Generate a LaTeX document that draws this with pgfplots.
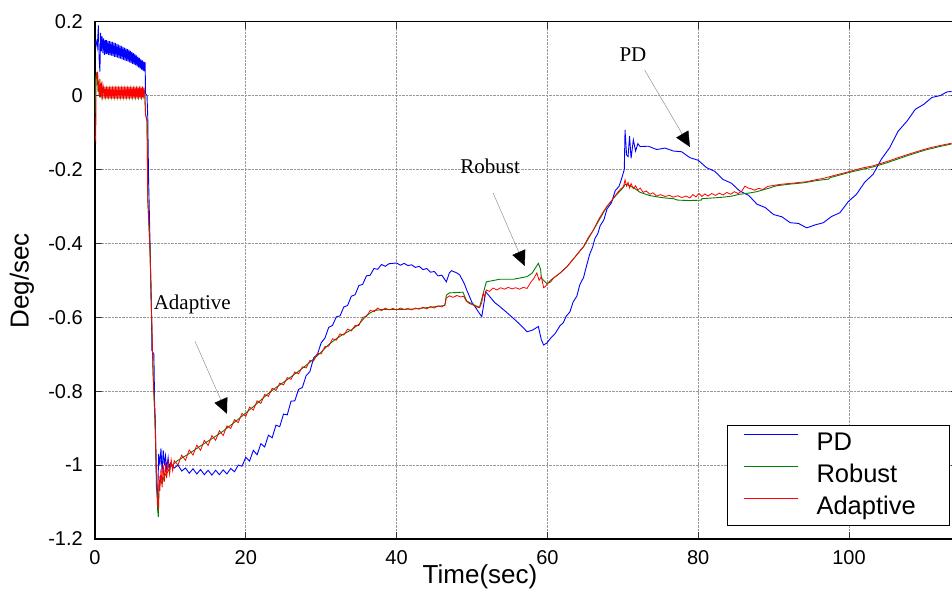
\documentclass[border=0pt]{standalone}
\usepackage{fontspec}
\setmainfont{Liberation Sans}
\newfontfamily\annfont{Liberation Serif}
\usepackage{pgfplots}
\pgfplotsset{compat=1.18}
\usetikzlibrary{arrows.meta}
\definecolor{pdblue}{RGB}{0,0,255}
\definecolor{rbgreen}{RGB}{0,128,0}
\definecolor{adred}{RGB}{255,0,0}
\begin{document}
\begin{tikzpicture}
\begin{axis}[
  scale only axis, width=863.3pt, height=517.3pt,
  xmin=0, xmax=114.5, ymin=-1.2, ymax=0.2,
  xtick={0,20,40,60,80,100}, xticklabels={0,20,40,60,80,100},
  ytick={-1.2,-1,-0.8,-0.6,-0.4,-0.2,0,0.2},
  yticklabels={-1.2,-1,-0.8,-0.6,-0.4,-0.2,0,0.2},
  tick label style={font=\fontsize{20}{24}\selectfont, inner sep=0pt},
  xticklabel shift=11pt, yticklabel shift=12pt,
  tick align=inside, major tick length=7pt,
  tick style={black!80, line width=0.6pt},
  axis line style={black, line width=1.2pt},
  grid=major, grid style={densely dotted, gray!80, line width=0.7pt},
  xlabel={Time(sec)}, ylabel={Deg/sec},
  label style={font=\fontsize{26}{30}\selectfont},
  xlabel style={at={(0.446,-0.0735)}, anchor=center},
  ylabel style={at={(-0.0846,0.4988)}, anchor=center},
  legend style={at={(0.7321,0.0251)}, anchor=south west, draw=black, line width=1.2pt,
    fill=white, font=\fontsize{25.5}{30}\selectfont, inner xsep=16pt, inner ysep=5pt,
    row sep=6pt, nodes={inner xsep=0pt, inner ysep=0pt, text height=20pt, text depth=6pt},
    /tikz/every odd column/.append style={column sep=18pt},
    /tikz/every even column/.append style={text width=117pt}},
  legend image code/.code={\draw[#1] (0pt,9pt) -- (54pt,9pt);},
  legend cell align=left,
]
\addplot[pdblue, line width=0.9pt] coordinates {
(0,0.14)(0.15,0.148)(0.3,0.13)(0.45,0.19)(0.55,0.1)(0.65,0.065)(0.75,0.17)(0.85,0.12)(0.95,0.16)(1.05,0.115)(1.15,0.155)(1.25,0.11)(1.35,0.15)(1.45,0.112)
(1.5,0.15)(1.6,0.112)(1.7,0.148)(1.8,0.11)(1.9,0.147)(2.0,0.109)(2.1,0.146)(2.2,0.108)(2.3,0.145)(2.4,0.107)(2.5,0.143)(2.6,0.105)(2.7,0.142)(2.8,0.104)(2.9,0.14)(3.0,0.103)(3.1,0.138)(3.2,0.101)(3.3,0.136)(3.4,0.1)(3.5,0.134)(3.6,0.098)(3.7,0.132)(3.8,0.097)(3.9,0.13)(4.0,0.095)(4.1,0.128)(4.2,0.094)(4.3,0.126)(4.4,0.092)(4.5,0.124)(4.6,0.09)(4.7,0.121)(4.8,0.088)(4.9,0.118)(5.0,0.086)(5.1,0.115)(5.2,0.084)(5.3,0.112)(5.4,0.082)(5.5,0.109)(5.6,0.079)(5.7,0.105)(5.8,0.076)(5.9,0.102)(6.0,0.073)(6.1,0.098)(6.2,0.07)(6.3,0.095)(6.4,0.067)(6.5,0.092)(6.6,0.065)
(6.65,0.09)(6.7,0.006)(6.9,0.0)(7.0,-0.06)(7.1,-0.22)(7.3,-0.40)(7.5,-0.60)(7.55,-0.69)(7.8,-0.70)(7.85,-0.75)(7.9,-0.83)(8.0,-0.88)(8.05,-0.94)(8.15,-1.06)(8.3,-1.09)(8.45,-0.97)(8.6,-1.0)(8.75,-0.955)(8.9,-1.02)(9.05,-0.96)(9.2,-1.0)(9.35,-0.975)(9.5,-1.01)(9.7,-0.98)(9.85,-1.01)
(10.0,-0.995)(10.5,-1.008)(11,-1.0)(11.5,-1.016)(12,-1.008)(12.5,-1.022)(13,-1.01)(13.5,-1.024)(14,-1.012)(14.5,-1.026)(15,-1.014)(15.5,-1.027)(16,-1.014)(16.5,-1.026)(17,-1.013)(17.5,-1.024)(18,-1.009)(18.5,-1.018)(19,-1.0)(19.5,-1.003)
(20,-0.979)(20.5,-0.989)(21,-0.96)(21.5,-0.972)(22,-0.942)(22.5,-0.951)(23,-0.919)(23.5,-0.926)(24,-0.892)(24.5,-0.896)(25,-0.862)(25.5,-0.864)(26,-0.827)(26.5,-0.826)(27,-0.795)(27.5,-0.79)(28,-0.758)(28.5,-0.747)(29,-0.71)(29.5,-0.7)(30,-0.669)(30.5,-0.656)(31,-0.627)(31.5,-0.622)(32,-0.599)(32.5,-0.596)(33,-0.572)(33.5,-0.568)(34,-0.543)(34.5,-0.539)(35,-0.514)(35.5,-0.511)(36,-0.488)(36.5,-0.486)(37,-0.468)(37.5,-0.47)(38,-0.457)(38.5,-0.462)(39,-0.455)
(40,-0.453)(40.5,-0.459)(41,-0.454)(41.5,-0.46)(42,-0.458)(42.5,-0.465)(43,-0.462)(43.5,-0.471)(44,-0.468)(44.5,-0.478)(45,-0.476)(45.5,-0.488)(46,-0.486)(46.6,-0.504)(47.0,-0.48)(47.3,-0.474)(48.0,-0.48)(48.4,-0.486)(49.0,-0.51)(49.3,-0.526)(50.0,-0.56)(50.4,-0.571)(51.0,-0.59)(51.3,-0.598)(51.6,-0.56)(51.8,-0.531)(52.2,-0.54)(53.0,-0.56)(53.7,-0.571)(54.5,-0.585)(55.5,-0.603)(56.4,-0.62)(57.3,-0.639)(58.0,-0.635)(58.8,-0.625)(59.2,-0.661)(59.5,-0.675)(59.9,-0.67)
(60.5,-0.655)(61,-0.645)(61.7,-0.622)(62.1,-0.615)(62.5,-0.597)(63,-0.585)(63.4,-0.559)(63.9,-0.543)(64.3,-0.512)(64.8,-0.492)(65.2,-0.46)(65.6,-0.43)(66,-0.41)(66.3,-0.387)(66.7,-0.373)(67,-0.352)(67.5,-0.336)(67.9,-0.307)(68.5,-0.29)(69,-0.257)(69.5,-0.246)(69.9,-0.221)
(70.2,-0.20)(70.3,-0.093)(70.5,-0.16)(70.7,-0.165)(70.9,-0.11)(71.1,-0.17)(71.4,-0.12)(71.7,-0.15)(72.0,-0.13)(72.3,-0.138)
(73.4,-0.137)(74.5,-0.146)(75.6,-0.142)(76.7,-0.15)(77.8,-0.152)(78.9,-0.168)(80,-0.175)(81.1,-0.195)(82.2,-0.205)(83.3,-0.227)(84.4,-0.237)(85.5,-0.258)(86.7,-0.27)(87.8,-0.294)(88.9,-0.303)(90,-0.322)(91.1,-0.328)(92.2,-0.344)(93.3,-0.346)(94.4,-0.358)(95.5,-0.35)(96.6,-0.344)(97.7,-0.327)(98.8,-0.317)(99.9,-0.287)(101,-0.267)(102.1,-0.234)(103.2,-0.213)(104.3,-0.172)(105.4,-0.141)(106.5,-0.097)(107.7,-0.069)(108.8,-0.037)(109.9,-0.024)(111,-0.005)(112.1,0.0)(113,0.01)(113.6,0.011)
};
\addlegendentry{PD}
\addplot[rbgreen, line width=0.9pt] coordinates {
(0,-0.05)(0.1,0.05)(0.2,0.06)(0.3,0.055)(0.4,0.01)(0.5,0.04)(0.6,-0.005)(0.8,0.03)(0.95,-0.006)
(1.15,0.02)(1.35,-0.006)(1.55,0.02)(1.75,-0.006)(1.95,0.02)(2.15,-0.006)(2.35,0.02)(2.55,-0.006)(2.75,0.02)(2.95,-0.006)(3.15,0.02)(3.35,-0.006)(3.55,0.02)(3.75,-0.006)(3.95,0.02)(4.15,-0.006)(4.35,0.02)(4.55,-0.006)(4.75,0.02)(4.95,-0.006)(5.15,0.02)(5.35,-0.006)(5.55,0.02)(5.75,-0.006)(5.95,0.02)(6.15,-0.006)(6.35,0.02)(6.6,0.005)
(6.7,-0.05)(6.9,-0.07)(7.0,-0.28)(7.3,-0.42)(7.5,-0.59)(7.7,-0.75)(7.96,-0.88)(8.1,-1.0)(8.3,-1.12)(8.4,-1.14)(8.5,-1.06)(8.7,-1.04)(8.9,-1.05)(9.2,-1.03)(9.6,-1.02)(10.0,-1.005)(10.5,-0.996)
(11,-0.987)(12,-0.975)(13,-0.962)(14,-0.948)(15,-0.935)(16,-0.922)(17,-0.908)(18,-0.892)(19,-0.876)(20,-0.859)(21,-0.842)(22,-0.824)(23,-0.806)(24,-0.79)(25,-0.776)(26,-0.761)(27,-0.746)(28,-0.73)(29,-0.713)(30,-0.694)(31,-0.674)(32,-0.658)(33,-0.645)(34,-0.634)(35,-0.619)(36,-0.595)(37,-0.582)(38,-0.579)(40,-0.579)(42,-0.578)(44,-0.574)(46.4,-0.568)(46.6,-0.54)(47.0,-0.534)(48.8,-0.532)(49.3,-0.556)(50.2,-0.566)(51.0,-0.573)(51.5,-0.535)(51.9,-0.504)(53.7,-0.497)(55.5,-0.497)(57.3,-0.49)(58.0,-0.48)(58.3,-0.47)(58.8,-0.454)(59.1,-0.47)(59.2,-0.494)(59.9,-0.508)(60.4,-0.505)(60.8,-0.494)(61.7,-0.48)(62.6,-0.463)(63.7,-0.436)(64.8,-0.409)(66.1,-0.364)(67.9,-0.30)(69.1,-0.27)(70.1,-0.248)(70.3,-0.24)(70.7,-0.242)(71.5,-0.25)(72.3,-0.262)(73.5,-0.27)(74.5,-0.274)(75.6,-0.277)(76.7,-0.279)(77.3,-0.283)(78.9,-0.284)(80.4,-0.283)(80.5,-0.279)(82,-0.277)(83.3,-0.275)(84.5,-0.272)(85.5,-0.267)(86.7,-0.264)(87.8,-0.26)(88.6,-0.255)(89.5,-0.25)(90.4,-0.244)(92,-0.24)(94,-0.236)(95.7,-0.23)(97.3,-0.226)(97.5,-0.222)(98.8,-0.215)(100,-0.208)(101.5,-0.201)(103.2,-0.193)(105,-0.182)(107.7,-0.163)(110,-0.148)(112,-0.138)(113.6,-0.131)
};
\addlegendentry{Robust}
\addplot[adred, line width=0.8pt] coordinates {
(0,-0.11)(0.1,-0.12)(0.15,0.04)(0.25,0.06)(0.35,0.063)(0.45,0.03)(0.55,0.0)(0.65,0.045)(0.75,-0.005)(0.85,0.035)(0.95,-0.01)(1.05,0.03)
(1.1,0.024)(1.2,-0.008)(1.3,0.024)(1.4,-0.008)(1.5,0.024)(1.6,-0.008)(1.7,0.024)(1.8,-0.008)(1.9,0.024)(2.0,-0.008)(2.1,0.024)(2.2,-0.008)(2.3,0.024)(2.4,-0.008)(2.5,0.024)(2.6,-0.008)(2.7,0.024)(2.8,-0.008)(2.9,0.024)(3.0,-0.008)(3.1,0.024)(3.2,-0.008)(3.3,0.024)(3.4,-0.008)(3.5,0.024)(3.6,-0.008)(3.7,0.024)(3.8,-0.008)(3.9,0.024)(4.0,-0.008)(4.1,0.024)(4.2,-0.008)(4.3,0.024)(4.4,-0.008)(4.5,0.024)(4.6,-0.008)(4.7,0.024)(4.8,-0.008)(4.9,0.024)(5.0,-0.008)(5.1,0.024)(5.2,-0.008)(5.3,0.024)(5.4,-0.008)(5.5,0.024)(5.6,-0.008)(5.7,0.024)(5.8,-0.008)(5.9,0.024)(6.0,-0.008)(6.1,0.024)(6.2,-0.008)(6.3,0.024)(6.4,-0.008)(6.5,0.022)(6.6,0.006)
(6.7,-0.05)(6.9,-0.07)(7.0,-0.28)(7.3,-0.42)(7.5,-0.59)(7.7,-0.75)(7.96,-0.88)(8.1,-0.98)(8.3,-1.1)(8.4,-1.12)(8.5,-1.03)(8.6,-1.07)(8.75,-1.01)(8.9,-1.06)(9.05,-1.0)(9.2,-1.045)(9.35,-0.995)(9.5,-1.035)(9.7,-0.99)(9.9,-1.025)(10.1,-0.985)(10.3,-1.015)
(10.5,-0.988)(11,-1.0)(11.5,-0.973)(12,-0.987)(12.5,-0.959)(13,-0.973)(13.5,-0.946)(14,-0.96)(14.5,-0.933)(15,-0.947)(15.5,-0.92)(16,-0.933)(16.5,-0.907)(17,-0.92)(17.5,-0.894)(18,-0.901)(18.5,-0.877)(19,-0.885)(19.5,-0.86)(20,-0.868)(20.5,-0.843)(21,-0.851)(21.5,-0.826)(22,-0.833)(22.5,-0.809)(23,-0.814)(23.5,-0.792)(24,-0.798)(24.5,-0.778)(25,-0.783)(25.5,-0.763)(26,-0.768)(26.5,-0.748)(27,-0.753)(27.5,-0.734)(28,-0.737)(28.5,-0.717)(29,-0.718)(29.5,-0.698)(30,-0.699)(30.5,-0.679)(31,-0.678)(31.5,-0.658)(32,-0.662)(32.5,-0.645)(33,-0.648)(33.5,-0.632)(34,-0.637)(34.5,-0.622)(35,-0.622)(35.5,-0.6)(36,-0.598)(36.5,-0.581)(37,-0.585)(37.5,-0.575)(38,-0.582)
(38.5,-0.575)(39,-0.58)(39.5,-0.576)(40,-0.58)(40.5,-0.575)(41,-0.579)(41.5,-0.576)(42,-0.58)(42.5,-0.575)(43,-0.578)(43.5,-0.573)(44,-0.577)(44.5,-0.571)(45,-0.575)(45.5,-0.569)(46,-0.572)(46.4,-0.566)(46.6,-0.548)(47,-0.542)(47.5,-0.546)(48,-0.541)(48.5,-0.545)(48.9,-0.543)(49.2,-0.555)(49.6,-0.562)(50.2,-0.567)(50.6,-0.572)(51.0,-0.574)(51.3,-0.56)(51.5,-0.535)(51.7,-0.545)(51.9,-0.526)(52.3,-0.53)(52.8,-0.521)(53.3,-0.526)(53.8,-0.52)(54.3,-0.524)(54.8,-0.519)(55.3,-0.523)(55.8,-0.52)(56.3,-0.524)(56.8,-0.519)(57.3,-0.522)(57.8,-0.505)(58.2,-0.495)(58.6,-0.48)(58.9,-0.5)(59.2,-0.49)(59.5,-0.52)(59.7,-0.517)(60.0,-0.51)(60.4,-0.5)(60.8,-0.494)(61.2,-0.488)(61.7,-0.48)(62.2,-0.47)(62.6,-0.463)(63.2,-0.448)(63.7,-0.436)(64.3,-0.42)(64.8,-0.409)(65.4,-0.385)(66.1,-0.364)(66.8,-0.335)(67.4,-0.315)(67.9,-0.30)(68.5,-0.285)(69.1,-0.268)(69.6,-0.255)(70.1,-0.246)(70.3,-0.228)(70.5,-0.245)(70.7,-0.235)(70.9,-0.25)(71.1,-0.238)(71.4,-0.252)(71.7,-0.244)(72.0,-0.256)(72.3,-0.25)(72.7,-0.262)(73.1,-0.258)(73.6,-0.267)(74.0,-0.263)(74.5,-0.272)(75.0,-0.268)(75.6,-0.273)(76.2,-0.27)(76.7,-0.275)(77.3,-0.271)(77.8,-0.276)(78.4,-0.272)(78.9,-0.277)(79.3,-0.268)(79.7,-0.274)(80.1,-0.265)(80.5,-0.273)(80.9,-0.266)(81.3,-0.272)(81.8,-0.265)(82.3,-0.27)(82.8,-0.264)(83.3,-0.269)(83.8,-0.262)(84.3,-0.267)(84.8,-0.26)(85.3,-0.265)(85.8,-0.258)(86.2,-0.245)(86.6,-0.25)(87.0,-0.252)(87.5,-0.256)(88.0,-0.251)(88.6,-0.254)(89.2,-0.246)(90.0,-0.243)(91.0,-0.24)(92.0,-0.238)(93.0,-0.236)(94.4,-0.233)(95.5,-0.228)(96.6,-0.224)(97.7,-0.218)(98.8,-0.212)(100,-0.206)(101,-0.2)(102,-0.195)(103.2,-0.19)(104.3,-0.183)(105.4,-0.176)(106.5,-0.168)(107.7,-0.16)(108.8,-0.153)(109.9,-0.146)(111,-0.14)(112.1,-0.135)(113.6,-0.129)
};
\addlegendentry{Adaptive}
\node[font=\annfont\fontsize{21}{24}\selectfont, anchor=base] at (axis cs:71.35,0.091) {PD};
\node[font=\annfont\fontsize{21}{24}\selectfont, anchor=base] at (axis cs:52.4,-0.2095) {Robust};
\node[font=\annfont\fontsize{21}{24}\selectfont, anchor=base] at (axis cs:12.9,-0.578) {Adaptive};
\draw[gray, line width=0.4pt, -{Triangle[length=15pt,width=14pt,color=black]}] (axis cs:72.9,0.069) -- (axis cs:78.9,-0.139);
\draw[gray, line width=0.4pt, -{Triangle[length=15pt,width=14pt,color=black]}] (axis cs:52.8,-0.2636) -- (axis cs:57.0,-0.461);
\draw[gray, line width=0.4pt, -{Triangle[length=15pt,width=14pt,color=black]}] (axis cs:13.26,-0.665) -- (axis cs:17.5,-0.861);
\end{axis}
\pgfresetboundingbox
\path[use as bounding box] (-95pt,-54pt) rectangle (857pt,539pt);
\end{tikzpicture}
\end{document}
